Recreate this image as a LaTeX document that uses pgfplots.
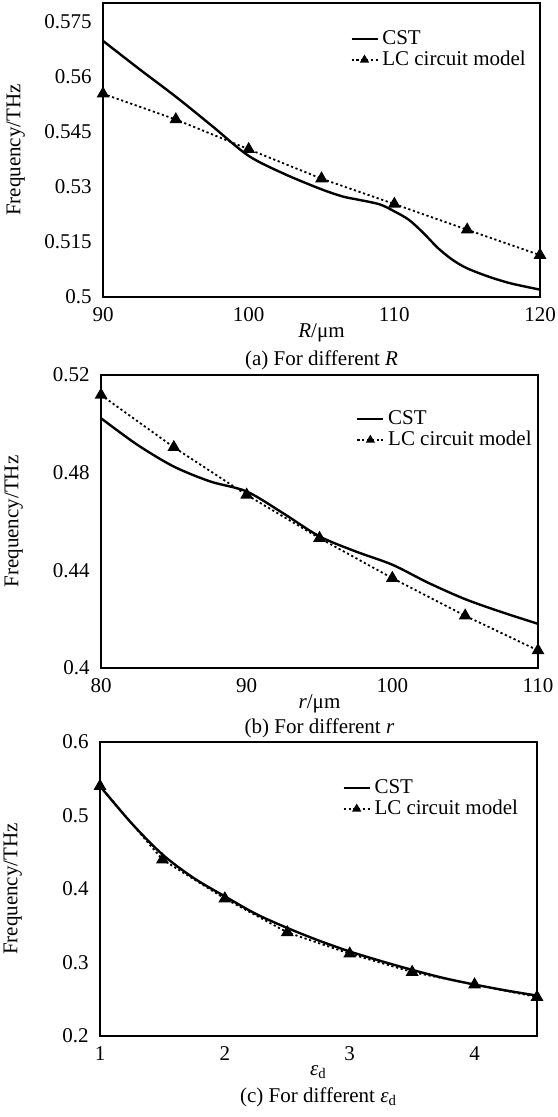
\documentclass[border=0pt]{standalone}
\usepackage{fontspec}
\setmainfont{Liberation Serif}
\usepackage{pgfplots}
\pgfplotsset{compat=1.18}

\pgfplotsset{
  panel/.style={
    scale only axis, width=218.5pt, anchor=south west,
    axis line style={line width=1.4pt},
    major tick length=0pt,
    /pgf/number format/assume math mode=true,
    xticklabel style={yshift=-1.5pt},
    yticklabel style={xshift=-2pt},
    ylabel={Frequency/THz},
    ylabel style={at={(axis description cs:-0.2,0.5)},anchor=center},
    xlabel style={at={(axis description cs:0.5,-0.122)},anchor=center},
    clip=false,
    legend cell align=left,
    legend style={draw=none,fill=none,anchor=north west,inner sep=0pt,
      nodes={inner ysep=1pt,inner xsep=1.8pt,text height=7pt,text depth=1.5pt}},
    legend image code/.code={\draw[mark repeat=2,mark phase=2,##1] plot coordinates {(0pt,0pt)(6.5pt,0pt)(13pt,0pt)};},
    legend image post style={mark size=1.8pt},
  },
  cst/.style={black,line width=1.2pt,smooth,no markers},
  lc/.style={black,line width=0.9pt,dash pattern=on 1.1pt off 1.3pt,
    mark=triangle*,mark size=2.8pt,mark options={solid}},
}

\begin{document}
\fontsize{10.5}{12.6}\selectfont
\begin{tikzpicture}
\path[use as bounding box] (0,0) rectangle (278.5pt,-558.5pt);

% (a) different R
\begin{axis}[panel, at={(51.5pt,-148.5pt)}, height=147pt,
    xmin=90, xmax=120, ymin=0.5, ymax=0.58,
    xtick={90,100,110,120},
    ytick={0.5,0.515,0.53,0.545,0.56,0.575},
    yticklabels={0.5,0.515,0.53,0.545,0.56,0.575},
    xlabel={\textit{R}/μm},
    legend style={at={(axis description cs:0.565,0.915)}}]
\addplot[cst] coordinates {
  (90,0.5697)(92.5,0.5620)(95,0.5545)(97.5,0.5465)(100,0.5384)
  (102.5,0.5334)(105,0.5293)(106.5,0.5273)(107.5,0.5265)(109,0.5252)
  (110,0.5233)(111,0.5210)(112,0.5174)(113,0.5133)(114,0.5101)
  (115,0.5078)(116.5,0.5055)(118,0.5037)(120,0.5020)};
\addplot[lc] coordinates {
  (90,0.5553)(95,0.5483)(100,0.5402)(105,0.5322)(110,0.5253)(115,0.5183)(120,0.5114)};
\legend{CST, LC circuit model}
\end{axis}
\node at (160.75pt,-180pt) {(a) For different \textit{R}};

% (b) different r
\begin{axis}[panel, at={(50.5pt,-334pt)}, height=146.5pt,
    xmin=80, xmax=110, ymin=0.4, ymax=0.52,
    xtick={80,90,100,110},
    ytick={0.4,0.44,0.48,0.52},
    yticklabels={0.4,0.44,0.48,0.52},
    xlabel={\textit{r}/μm},
    legend style={at={(axis description cs:0.583,0.887)}}]
\addplot[cst] coordinates {
  (80,0.5023)(82.5,0.4914)(85,0.4825)(87.5,0.4764)(90,0.4723)
  (92.5,0.4634)(95,0.4539)(97.5,0.4477)(100,0.4423)(102.5,0.4348)
  (105,0.4282)(107.5,0.4229)(110,0.4181)};
\addplot[lc] coordinates {
  (80,0.5118)(85,0.4904)(90,0.4709)(95,0.4532)(100,0.4368)(105,0.4214)(110,0.4072)};
\legend{CST, LC circuit model}
\end{axis}
\node at (159.75pt,-364pt) {(b) For different \textit{r}};

% (c) different eps_d
\begin{axis}[panel, at={(50pt,-518pt)}, height=147pt,
    xmin=1, xmax=4.5, ymin=0.2, ymax=0.6,
    xtick={1,2,3,4},
    ytick={0.2,0.3,0.4,0.5,0.6},
    yticklabels={0.2,0.3,0.4,0.5,0.6},
    xlabel={\textit{ε}\textsubscript{d}},
    legend style={at={(axis description cs:0.554,0.881)}}]
\addplot[cst] coordinates {
  (1,0.540)(1.25,0.490)(1.5,0.447)(1.75,0.415)(2,0.390)(2.25,0.366)
  (2.5,0.347)(2.75,0.330)(3,0.315)(3.25,0.302)(3.5,0.290)(3.75,0.279)
  (4,0.270)(4.25,0.262)(4.5,0.255)};
\addplot[lc] coordinates {
  (1,0.540)(1.5,0.440)(2,0.387)(2.5,0.341)(3,0.312)(3.5,0.287)(4,0.270)(4.5,0.253)};
\legend{CST, LC circuit model}
\end{axis}
\node at (159.25pt,-548.5pt) {(c) For different \textit{ε}\textsubscript{d}};
\end{tikzpicture}
\end{document}
